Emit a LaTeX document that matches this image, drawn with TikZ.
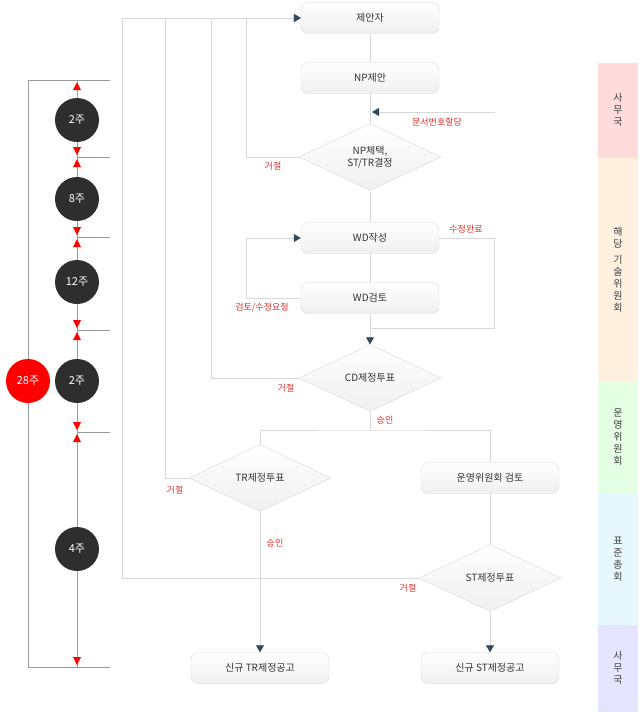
\documentclass[tikz,border=0pt]{standalone}
\usepackage{fontspec}
\newfontfamily\kr{Noto Sans CJK KR}
\usetikzlibrary{shapes.geometric,arrows.meta}
\definecolor{lnc}{HTML}{D8D8D8}
\definecolor{arr}{HTML}{34495E}
\definecolor{redt}{HTML}{D9302C}
\tikzset{
 box/.style={draw=lnc,rounded corners=7pt,top color=white,bottom color=black!6,minimum width=138pt,minimum height=31pt,font=\kr\fontsize{10}{12}\selectfont,text=black!80},
 dia/.style={draw=lnc,diamond,aspect=2.1,top color=white,bottom color=black!6,minimum width=142pt,minimum height=67pt,inner sep=0pt,font=\kr\fontsize{10}{12}\selectfont,text=black!80,align=center},
 ln/.style={draw=lnc,line width=0.8pt},
 ar/.style={ln,-{Triangle[length=7pt,width=8pt,color=arr]}},
 lab/.style={font=\kr\fontsize{9}{11}\selectfont,text=redt},
 wk/.style={circle,fill=black!82,minimum size=44pt,inner sep=0pt,text=white,font=\kr\fontsize{11}{13}\selectfont},
 tl/.style={draw=black!40,line width=0.7pt},
 band/.style={font=\kr\fontsize{10}{12}\selectfont,text=black!75,align=center},
}
\begin{document}
\begin{tikzpicture}[x=1pt,y=-1pt]
\useasboundingbox (0,0) rectangle (640,715);
% bands
\fill[red!14] (598,63) rectangle (638,158);
\fill[orange!12] (598,158) rectangle (638,381);
\fill[green!10] (598,381) rectangle (638,493);
\fill[cyan!10] (598,493) rectangle (638,625);
\fill[blue!10] (598,625) rectangle (638,712);
\node[band] (b1) at (618,110) {사\\무\\국};
\node[band] (b2) at (618,270) {해\\당\\[4pt]기\\술\\위\\원\\회};
\node[band] (b3) at (618,437) {운\\영\\위\\원\\회};
\node[band] (b4) at (618,559) {표\\준\\총\\회};
\node[band] (b5) at (618,668) {사\\무\\국};
% timeline
\draw[tl] (110,80) -- (28,80) -- (28,667) -- (110,667);
\draw[tl] (77,80) -- (77,667);
\foreach \y in {157,237,330,432} \draw[tl] (77,\y) -- (110,\y);
\foreach \y in {80,157,237,330,432} \fill[red] (77,\y+2) -- (73,\y+10) -- (81,\y+10) -- cycle;
\foreach \y in {157,237,330,432,667} \fill[red] (77,\y-2) -- (73,\y-10) -- (81,\y-10) -- cycle;
\node[wk] (w1) at (77,120) {2주};
\node[wk] (w2) at (77,199) {8주};
\node[wk] (w3) at (77,282) {12주};
\node[wk] (w4) at (77,381) {2주};
\node[wk] (w5) at (77,549) {4주};
\node[wk,fill=red] (w6) at (28,381) {28주};
% nodes
\node[box] (a) at (370,18) {제안자};
\node[box] (b) at (370,78) {NP제안};
\node[dia] (c) at (370,157) {NP체택,\\ST/TR결정};
\node[box] (d) at (370,238) {WD작성};
\node[box] (e) at (370,298) {WD검토};
\node[dia] (f) at (370,378) {CD제정투표};
\node[dia] (g) at (260,478) {TR제정투표};
\node[box] (h) at (490,478) {운영위원회 검토};
\node[dia] (i) at (490,578) {ST제정투표};
\node[box] (j) at (260,668) {신규 TR제정공고};
\node[box] (k) at (490,668) {신규 ST제정공고};
% connectors
\draw[ln] (a) -- (b);
\draw[ln] (b) -- (c);
\draw[ln] (c) -- (d);
\draw[ln] (d) -- (e);
\coordinate (s1) at (495,112);
\draw[ar] (s1) -- (372,112);
\node[lab] (l1) at (437,122) {문서번호할당};
\draw[ar] (c.west) -| (246,18) -- (a.west);
\node[lab] (l2) at (273,166) {거절};
\draw[ar] (e.west) -| (246,238) -- (d.west);
\node[lab] (l3) at (262,308) {검토/수정요청};
\draw[ln] (d.east) -- (494,238) |- (370,328);
\node[lab] (l4) at (466,229) {수정완료};
\draw[ar] (e.south) -- (f.north);
\draw[ln] (f.west) -| (211,18);
\node[lab] (l5) at (286,388) {거절};
\draw[ln] (f.south) -- (370,430);
\draw[ln] (g.north) |- (370,430) -| (h.north);
\node[lab] (l6) at (385,420) {승인};
\draw[ln] (g.west) -| (165,18);
\node[lab] (l7) at (175,490) {거절};
\draw[ar] (g.south) -- (j.north);
\node[lab] (l8) at (275,543) {승인};
\draw[ln] (h) -- (i);
\draw[ln] (i.west) -| (122,18);
\node[lab] (l9) at (408,588) {거절};
\draw[ar] (i.south) -- (k.north);
\draw[ar] (122,18) -- (a.west);
\end{tikzpicture}
\end{document}
